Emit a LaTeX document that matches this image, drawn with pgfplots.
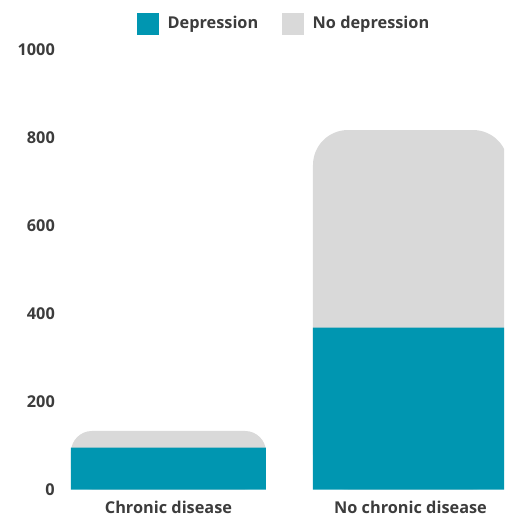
\documentclass[border=0pt]{standalone}
\usepackage{fontspec}
\setmainfont{Open Sans}
\usepackage{pgfplots}
\usepackage{pgfplotstable}
\pgfplotsset{compat=1.18}

\definecolor{depcol}{HTML}{0096B1}
\definecolor{nodepcol}{HTML}{D9D9D9}
\definecolor{labelcol}{HTML}{3C3C3C}

% respondents by chronic disease status (0 = chronic disease, 1 = none)
\pgfplotstableread{
x dep nodep
0 95  38
1 368 449
}\datatable

\begin{document}
\begin{tikzpicture}
\useasboundingbox (-60pt,-28.5pt) rectangle (444pt,489.5pt);
\begin{axis}[
  at={(0,0)}, anchor=south west,
  scale only axis, width=444pt, height=440pt,
  xmin=-0.4483, xmax=1.3864, ymin=0, ymax=1000,
  axis line style={draw=none},
  major tick length=0pt,
  xtick={0,1}, xticklabels={Chronic disease, No chronic disease},
  ytick={0,200,...,1000},
  /pgf/number format/assume math mode=true,
  /pgf/number format/1000 sep={},
  tick label style={font=\fontsize{16.3}{19}\selectfont\bfseries, text=labelcol},
  yticklabel style={anchor=east, inner sep=0pt, xshift=-5pt},
  xticklabel style={anchor=north, inner sep=0pt, yshift=-11pt},
  mybar/.style={ybar, bar width=195pt, bar shift=0pt, draw=none},
  legend columns=2,
  legend style={at={(axis description cs:0.1734,1.0591)}, anchor=west,
    draw=none, fill=none, inner sep=0pt,
    font=\fontsize{16.3}{19}\selectfont\bfseries, text=labelcol,
    nodes={inner sep=0pt},
    /tikz/every odd column/.append style={column sep=9pt},
    /tikz/every even column/.append style={column sep=24pt}},
  legend cell align=left,
]
% full bar height (both groups) in grey with rounded top corners
\addplot[mybar, fill=nodepcol, rounded corners=21pt, forget plot,
  restrict x to domain=-0.1:0.1]
  table[x=x, y expr=\thisrow{dep}+\thisrow{nodep}] {\datatable};
\addplot[mybar, fill=nodepcol, rounded corners=35pt, forget plot,
  restrict x to domain=0.9:1.1]
  table[x=x, y expr=\thisrow{dep}+\thisrow{nodep}] {\datatable};
% depression share on top, square-cornered
\addplot[mybar, fill=depcol, forget plot] table[x=x, y=dep] {\datatable};

\addlegendimage{legend image code/.code={\fill[depcol] (0pt,-10.5pt) rectangle (21pt,10.5pt);}}
\addlegendentry{Depression}
\addlegendimage{legend image code/.code={\fill[nodepcol] (0pt,-10.5pt) rectangle (21pt,10.5pt);}}
\addlegendentry{No depression}
\end{axis}
\end{tikzpicture}
\end{document}
